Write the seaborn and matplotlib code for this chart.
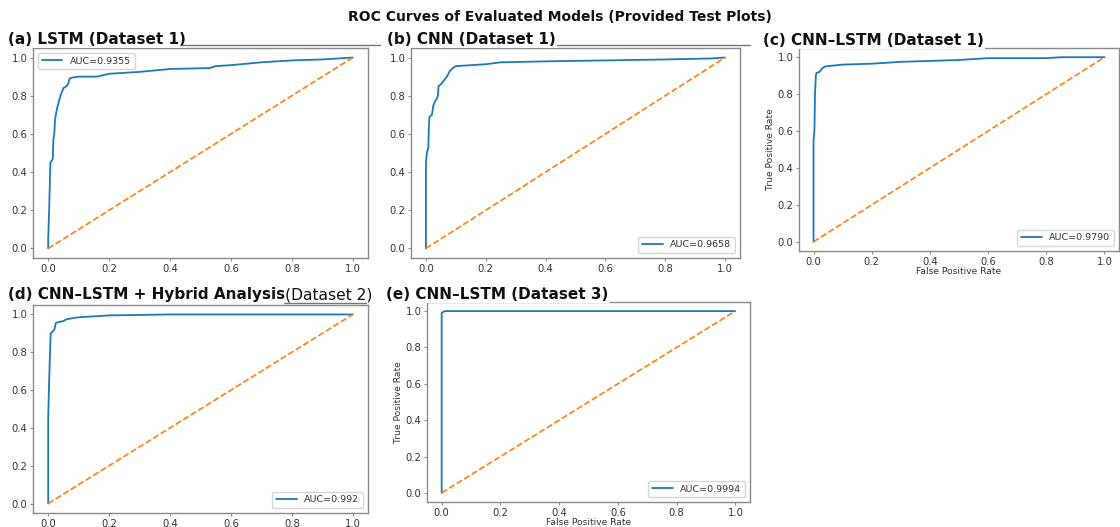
import matplotlib
matplotlib.use("Agg")
import matplotlib.pyplot as plt
from matplotlib.lines import Line2D
import seaborn as sns
import pandas as pd

# ---- data ----
fpr_a = [0, 0, 0.003, 0.005, 0.007, 0.012, 0.015, 0.017, 0.02, 0.022, 0.025, 0.03, 0.035, 0.04, 0.045, 0.05,
         0.06, 0.065, 0.07, 0.08, 0.10, 0.16, 0.20, 0.30, 0.40, 0.53, 0.55, 0.60, 0.70, 0.80, 0.90, 1.0]
tpr_a = [0, 0.05, 0.20, 0.32, 0.45, 0.46, 0.47, 0.57, 0.60, 0.67, 0.70, 0.74, 0.77, 0.80, 0.82, 0.84,
         0.85, 0.86, 0.89, 0.895, 0.90, 0.90, 0.915, 0.925, 0.94, 0.945, 0.955, 0.96, 0.975, 0.985, 0.99, 1.0]

fpr_b = [0, 0, 0.003, 0.008, 0.010, 0.012, 0.02, 0.025, 0.03, 0.035, 0.04, 0.042, 0.05, 0.06, 0.07, 0.08,
         0.09, 0.10, 0.15, 0.20, 0.25, 0.40, 0.60, 0.80, 0.95, 1.0]
tpr_b = [0, 0.45, 0.50, 0.53, 0.65, 0.69, 0.70, 0.75, 0.77, 0.78, 0.80, 0.85, 0.86, 0.88, 0.90, 0.93,
         0.945, 0.955, 0.96, 0.965, 0.975, 0.98, 0.985, 0.99, 0.995, 1.0]

fpr_c = [0, 0, 0.003, 0.005, 0.008, 0.010, 0.02, 0.03, 0.04, 0.07, 0.10, 0.20, 0.30, 0.50, 0.60, 0.80, 0.85, 1.0]
tpr_c = [0, 0.55, 0.60, 0.80, 0.90, 0.915, 0.92, 0.94, 0.95, 0.955, 0.96, 0.965, 0.975, 0.985, 0.995, 0.995, 1.0, 1.0]

fpr_d = [0, 0, 0.003, 0.005, 0.008, 0.012, 0.02, 0.025, 0.035, 0.05, 0.06, 0.10, 0.20, 0.40, 1.0]
tpr_d = [0, 0.45, 0.65, 0.75, 0.90, 0.905, 0.92, 0.955, 0.96, 0.965, 0.975, 0.985, 0.995, 1.0, 1.0]

fpr_e = [0, 0, 0.005, 0.01, 1.0]
tpr_e = [0, 0.99, 0.995, 1.0, 1.0]

titles = ["(a) LSTM (Dataset 1)", "(b) CNN (Dataset 1)", "(c) CNN\u2013LSTM (Dataset 1)",
          "(d) CNN\u2013LSTM + Hybrid Analysis", "(e) CNN\u2013LSTM (Dataset 3)"]
title_d_tail = "(Dataset 2)"
auc_labels = ["AUC=0.9355", "AUC=0.9658", "AUC=0.9790", "AUC=0.992", "AUC=0.9994"]
legend_locs = ["upper left", "lower right", "lower right", "lower right", "lower right"]
show_axis_labels = [False, False, True, False, True]
suptitle = "ROC Curves of Evaluated Models (Provided Test Plots)"

# ---- layout ----
sns.set_style("ticks")
plt.rcParams['font.family'] = ['DejaVu Sans']
W, H = 1120, 527
fig = plt.figure(figsize=(W / 100, H / 100), dpi=100)

boxes = [(33, 48, 368, 258), (411, 48, 740, 258), (799, 48, 1119, 251),
         (33, 305, 368, 513), (427, 302, 750, 502)]
title_pos = [(8, 47), (387, 47), (763, 48), (8, 302), (386, 302)]
rule_lines = [((182, 380), 45), ((557, 750), 45), ((284, 366), 303)]

data = [(fpr_a, tpr_a), (fpr_b, tpr_b), (fpr_c, tpr_c), (fpr_d, tpr_d), (fpr_e, tpr_e)]
blue = "#1f77b4"
orange = "#ff7f0e"
spine_col = "#8a8a8a"

for i, ((fx, ty), (x0, y0, x1, y1)) in enumerate(zip(data, boxes)):
    ax = fig.add_axes([x0 / W, 1 - y1 / H, (x1 - x0) / W, (y1 - y0) / H])
    df = pd.DataFrame({"fpr": fx, "tpr": ty})
    sns.lineplot(data=df, x="fpr", y="tpr", ax=ax, sort=False, estimator=None,
                 color=blue, lw=1.3, label=auc_labels[i])
    diag = pd.DataFrame({"x": [0, 1], "y": [0, 1]})
    sns.lineplot(data=diag, x="x", y="y", ax=ax, color=orange, lw=1.2, linestyle="--")
    ax.set_xlim(-0.05, 1.05)
    ax.set_ylim(-0.05, 1.05)
    ax.set_xticks([0, 0.2, 0.4, 0.6, 0.8, 1.0])
    ax.set_yticks([0, 0.2, 0.4, 0.6, 0.8, 1.0])
    ax.tick_params(labelsize=7.2, colors="#333333", length=2.5, width=0.8, pad=1.5)
    ax.tick_params(color=spine_col)
    for s in ax.spines.values():
        s.set_color(spine_col)
        s.set_linewidth(1.0)
    if show_axis_labels[i]:
        ax.set_xlabel("False Positive Rate", fontsize=6.6, color="#333333", labelpad=0.5)
        ax.set_ylabel("True Positive Rate", fontsize=6.6, color="#333333", labelpad=2)
    else:
        ax.set_xlabel("")
        ax.set_ylabel("")
    leg = ax.legend(loc=legend_locs[i], fontsize=6.8, frameon=True, handlelength=2.2,
                    borderpad=0.4, handletextpad=0.8, labelcolor="#333333")
    leg.get_frame().set_edgecolor("#cccccc")
    tx, tyy = title_pos[i]
    fig.text(tx / W, 1 - tyy / H, titles[i], fontsize=11, fontweight="bold",
             ha="left", va="bottom", color="#111111",
             bbox=dict(facecolor="white", edgecolor="none", pad=1.0), zorder=5)

fig.text(285 / W, 1 - 303 / H, title_d_tail, fontsize=11.2, fontweight="medium",
         ha="left", va="bottom", color="#111111", zorder=6)

for (xa, xb), yy in rule_lines:
    fig.add_artist(Line2D([xa / W, xb / W], [1 - yy / H, 1 - yy / H], color="#777777", lw=1.0, zorder=6))

fig.text(0.5, 1 - 24 / H, suptitle, fontsize=10, fontweight="bold", ha="center", va="bottom",
         color="#111111")

fig.savefig("out.png", dpi=100)
